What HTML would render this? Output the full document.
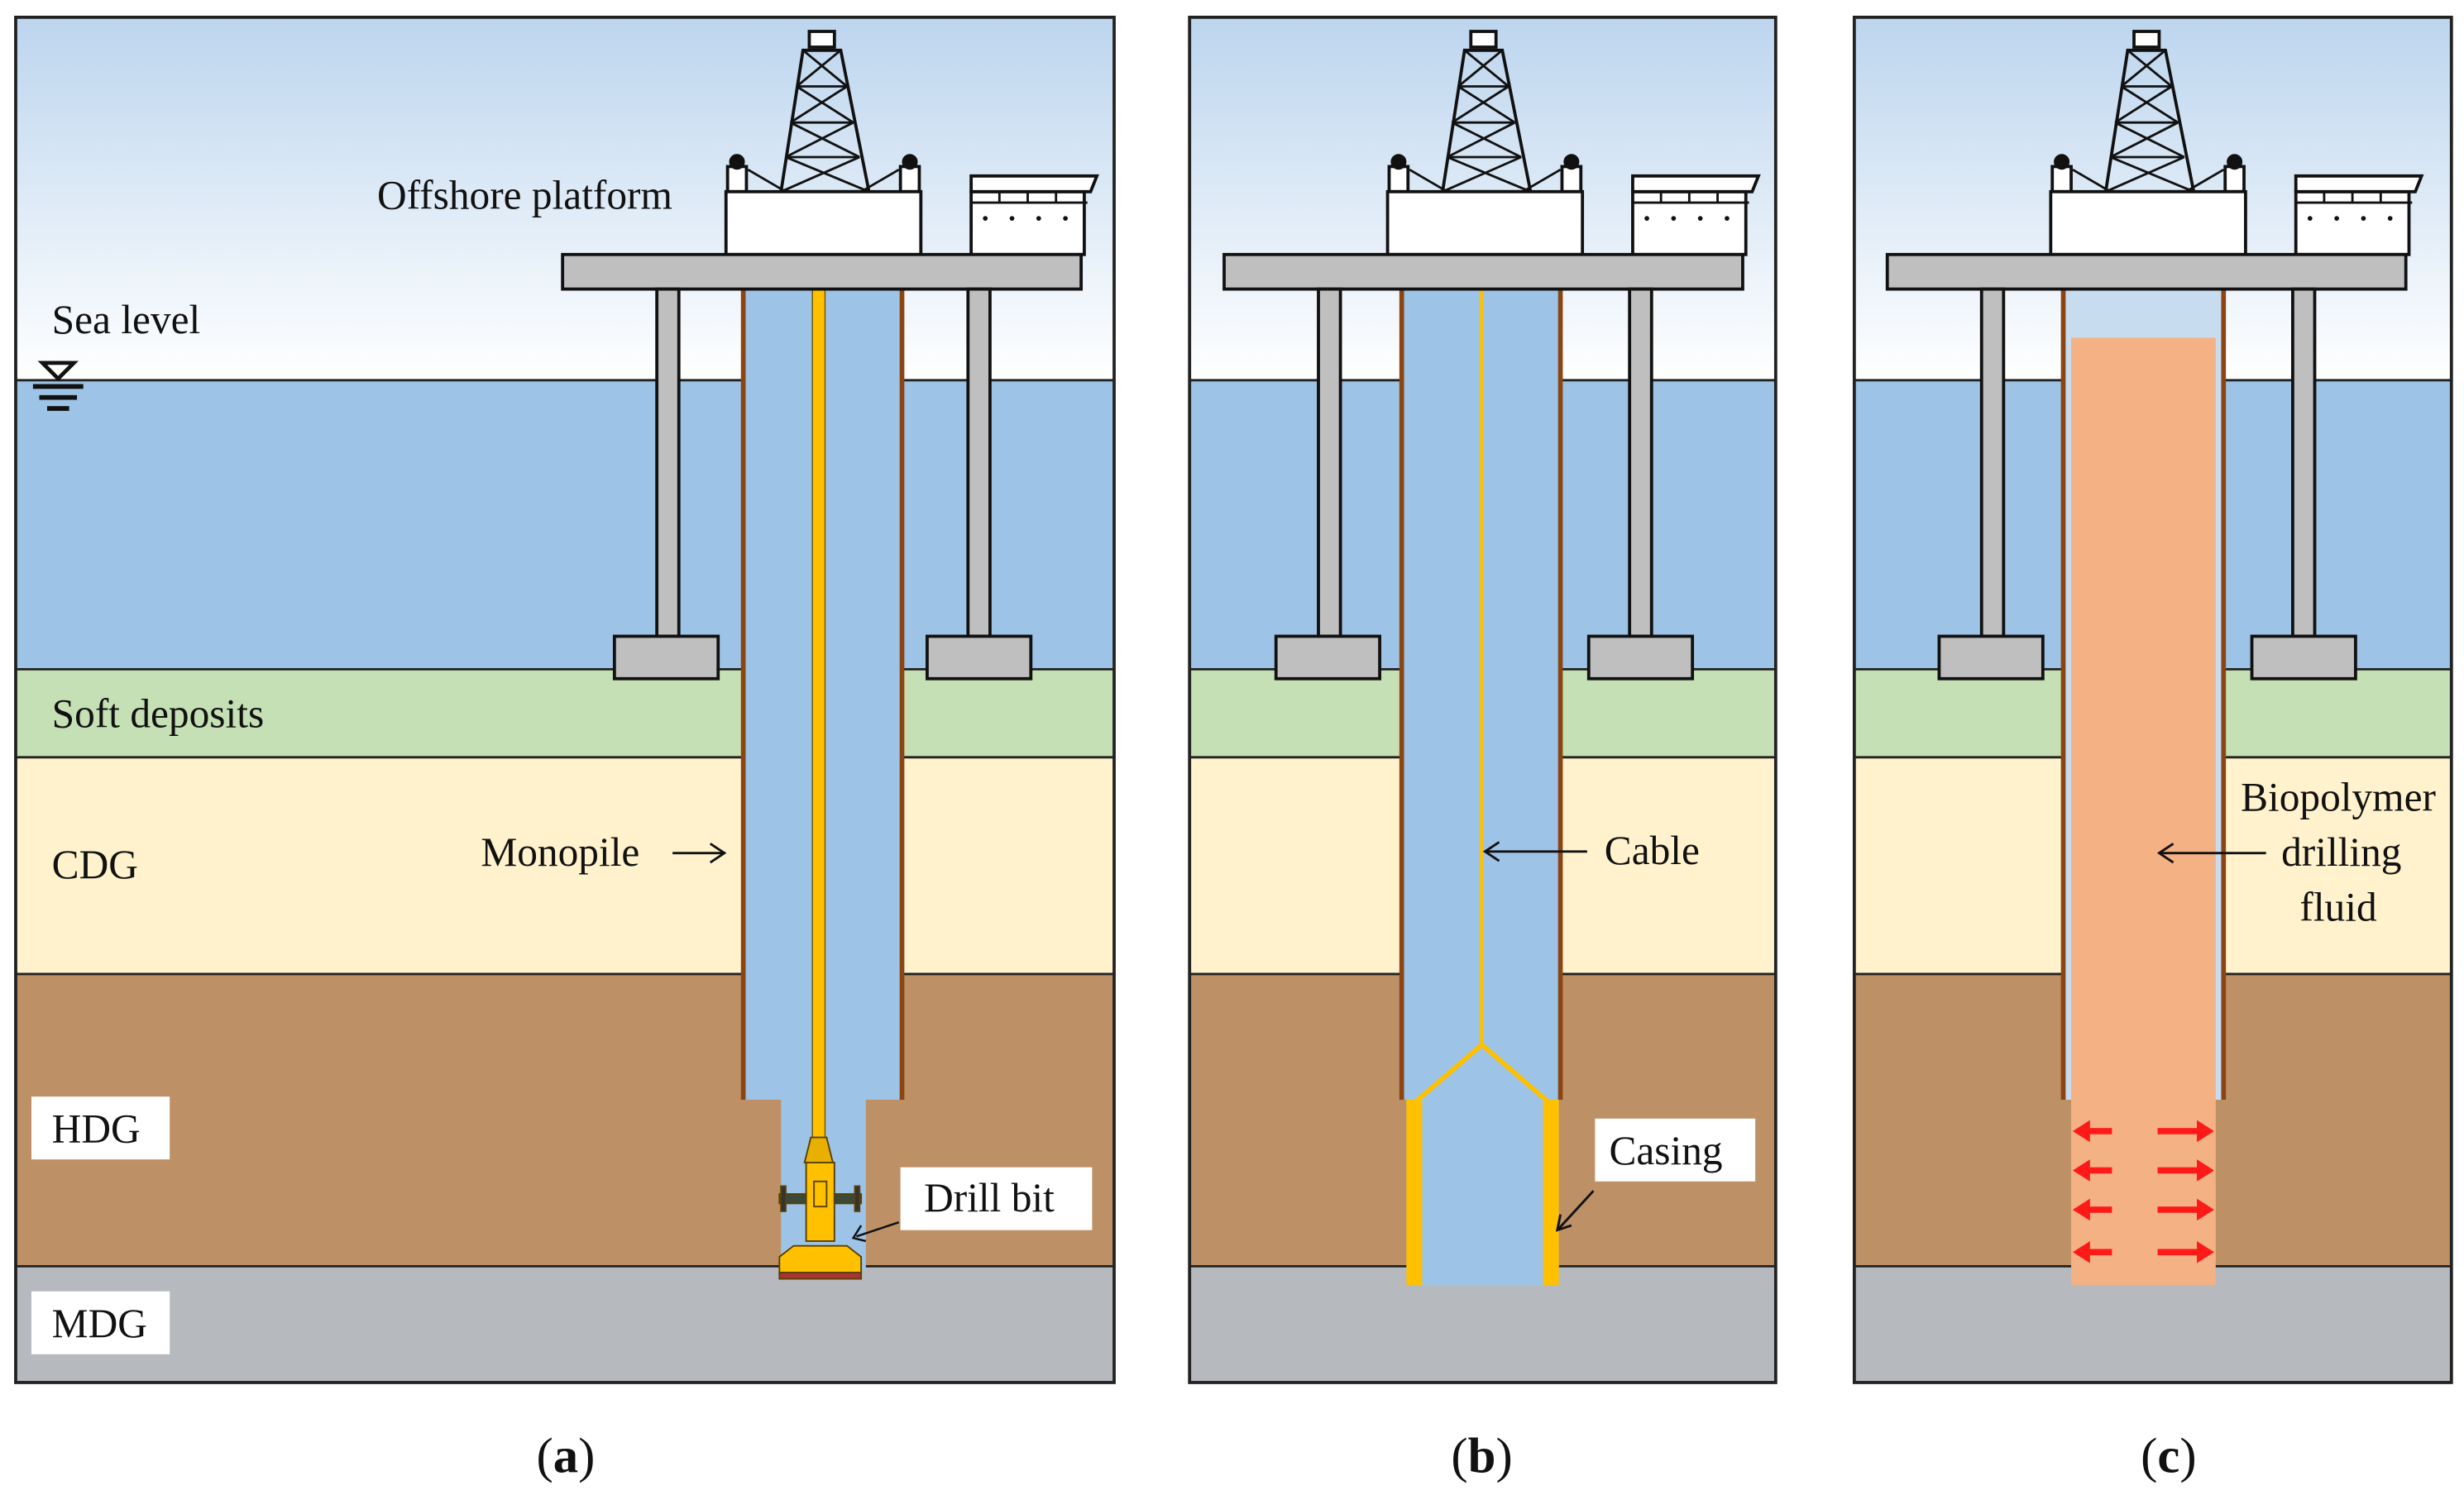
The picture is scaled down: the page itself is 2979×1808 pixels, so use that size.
<!DOCTYPE html>
<html><head><meta charset="utf-8"><style>html,body{margin:0;padding:0;background:#fff}svg{display:block}</style></head>
<body>
<svg width="2979" height="1808" viewBox="0 0 1568 951.6" preserveAspectRatio="none" xmlns="http://www.w3.org/2000/svg" font-family="Liberation Serif, serif">
<defs>
<linearGradient id="sky" x1="0" y1="0" x2="0" y2="1"><stop offset="0" stop-color="#bcd5ee"/><stop offset="1" stop-color="#ffffff"/></linearGradient>
<g id="plat" stroke="#111" stroke-width="2">
  <polygon points="497,122 553,122 535,32 511,32" fill="none"/>
  <rect x="515" y="20" width="16" height="10" fill="#fff"/>
  <g stroke-width="1.5" fill="none">
    <line x1="511" y1="32" x2="535" y2="32"/><line x1="507" y1="55" x2="539" y2="55"/>
    <line x1="503" y1="78" x2="543" y2="78"/><line x1="500" y1="100" x2="547" y2="100"/>
    <line x1="511" y1="32" x2="539" y2="55"/><line x1="535" y1="32" x2="507" y2="55"/>
    <line x1="507" y1="55" x2="543" y2="78"/><line x1="539" y1="55" x2="503" y2="78"/>
    <line x1="503" y1="78" x2="547" y2="100"/><line x1="543" y1="78" x2="500" y2="100"/>
    <line x1="500" y1="100" x2="553" y2="122"/><line x1="547" y1="100" x2="497" y2="122"/>
    <line x1="476" y1="108" x2="500" y2="122"/><line x1="572" y1="108" x2="548" y2="122"/>
  </g>
  <rect x="463" y="106" width="12" height="16" fill="#fff"/>
  <rect x="573" y="106" width="12" height="16" fill="#fff"/>
  <circle cx="469" cy="103" r="4" fill="#111"/><circle cx="579" cy="103" r="4" fill="#111"/>
  <rect x="462" y="122" width="124" height="40" fill="#fff"/>
  <rect x="618" y="122" width="72" height="40" fill="#fff"/>
  <polygon points="618,112 698,112 694,122 618,122" fill="#fff"/>
  <g stroke-width="1.5" fill="none"><line x1="618" y1="129" x2="692" y2="129"/><line x1="636" y1="122" x2="636" y2="129"/><line x1="654" y1="122" x2="654" y2="129"/><line x1="672" y1="122" x2="672" y2="129"/></g>
  <g fill="#111" stroke="none"><circle cx="627" cy="139" r="1.5"/><circle cx="644" cy="139" r="1.5"/><circle cx="661" cy="139" r="1.5"/><circle cx="678" cy="139" r="1.5"/></g>
  <rect x="358" y="162" width="330" height="22" fill="#bfbfbf"/>
  <rect x="418" y="184" width="14" height="221" fill="#bfbfbf"/>
  <rect x="616" y="184" width="14" height="221" fill="#bfbfbf"/>
  <rect x="391" y="405" width="66" height="27" fill="#bfbfbf"/>
  <rect x="590" y="405" width="66" height="27" fill="#bfbfbf"/>
</g>
</defs>

<g>
<rect x="10" y="11" width="699" height="231" fill="url(#sky)"/>
<rect x="10" y="242" width="699" height="184" fill="#9dc3e6"/>
<rect x="10" y="426" width="699" height="56" fill="#c5e0b4"/>
<rect x="10" y="482" width="699" height="138" fill="#fff2cc"/>
<rect x="10" y="620" width="699" height="186" fill="#bd9066"/>
<rect x="10" y="806" width="699" height="74" fill="#b6babf"/>
</g>
<g>
<rect x="757" y="11" width="373" height="231" fill="url(#sky)"/>
<rect x="757" y="242" width="373" height="184" fill="#9dc3e6"/>
<rect x="757" y="426" width="373" height="56" fill="#c5e0b4"/>
<rect x="757" y="482" width="373" height="138" fill="#fff2cc"/>
<rect x="757" y="620" width="373" height="186" fill="#bd9066"/>
<rect x="757" y="806" width="373" height="74" fill="#b6babf"/>
</g>
<g>
<rect x="1180" y="11" width="380" height="231" fill="url(#sky)"/>
<rect x="1180" y="242" width="380" height="184" fill="#9dc3e6"/>
<rect x="1180" y="426" width="380" height="56" fill="#c5e0b4"/>
<rect x="1180" y="482" width="380" height="138" fill="#fff2cc"/>
<rect x="1180" y="620" width="380" height="186" fill="#bd9066"/>
<rect x="1180" y="806" width="380" height="74" fill="#b6babf"/>
</g>
<g stroke="#222" stroke-width="1.5">
<line x1="10" y1="242" x2="709" y2="242"/><line x1="10" y1="426" x2="709" y2="426"/><line x1="10" y1="482" x2="709" y2="482"/><line x1="10" y1="620" x2="709" y2="620"/><line x1="10" y1="806" x2="709" y2="806"/>
<line x1="757" y1="242" x2="1130" y2="242"/><line x1="757" y1="426" x2="1130" y2="426"/><line x1="757" y1="482" x2="1130" y2="482"/><line x1="757" y1="620" x2="1130" y2="620"/><line x1="757" y1="806" x2="1130" y2="806"/>
<line x1="1180" y1="242" x2="1560" y2="242"/><line x1="1180" y1="426" x2="1560" y2="426"/><line x1="1180" y1="482" x2="1560" y2="482"/><line x1="1180" y1="620" x2="1560" y2="620"/><line x1="1180" y1="806" x2="1560" y2="806"/>
</g>

<!-- Panel A -->
<rect x="472" y="184" width="103" height="516" fill="#9dc3e6"/>
<rect x="497" y="698" width="54" height="110" fill="#9dc3e6"/>
<line x1="473" y1="184" x2="473" y2="700" stroke="#8b4513" stroke-width="3"/>
<line x1="574" y1="184" x2="574" y2="700" stroke="#8b4513" stroke-width="3"/>
<rect x="517" y="184" width="8" height="540" fill="#ffc000" stroke="#7a5a00" stroke-width="0.8"/>
<g stroke="#5a4000" stroke-width="1">
<polygon points="516,724 526,724 530,740 512,740" fill="#e8b000"/>
<rect x="513" y="740" width="18" height="50" fill="#ffc000"/>
<rect x="518" y="752" width="8" height="16" fill="#ffc000"/>
<rect x="496" y="760" width="17" height="6" fill="#3a4a3a"/><rect x="531" y="760" width="17" height="6" fill="#3a4a3a"/>
<rect x="497" y="755" width="3" height="16" fill="#333"/><rect x="544" y="755" width="3" height="16" fill="#333"/>
<polygon points="505,793 539,793 548,800 548,810 496,810 496,800" fill="#ffc000"/>
<rect x="496" y="810" width="52" height="4" fill="#a33"/>
</g>
<line x1="572" y1="778" x2="545" y2="787" stroke="#111" stroke-width="1.3"/>
<polyline points="548,780 543,788 551,790" fill="none" stroke="#111" stroke-width="1.3"/>
<use href="#plat"/>
<g stroke="#111" stroke-width="3" fill="none">
<polygon points="27,231 47,231 37,241" stroke-width="2.5"/>
<line x1="21" y1="246" x2="53" y2="246"/><line x1="25" y1="253" x2="49" y2="253"/><line x1="30" y1="260" x2="44" y2="260"/>
</g>
<g font-size="26" fill="#111">
<text x="240" y="133">Offshore platform</text>
<text x="33" y="212">Sea level</text>
<text x="33" y="463">Soft deposits</text>
<text x="33" y="559">CDG</text>
<text x="306" y="551">Monopile</text>
</g>
<line x1="428" y1="543" x2="460" y2="543" stroke="#111" stroke-width="1.5"/>
<polyline points="452,537 461,543 452,549" fill="none" stroke="#111" stroke-width="1.5"/>
<rect x="20" y="698" width="88" height="40" fill="#fff"/>
<text x="33" y="727" font-size="26" fill="#111">HDG</text>
<rect x="20" y="822" width="88" height="40" fill="#fff"/>
<text x="33" y="851" font-size="26" fill="#111">MDG</text>
<rect x="573" y="743" width="122" height="40" fill="#fff"/>
<text x="588" y="771" font-size="26" fill="#111">Drill bit</text>

<!-- Panel B -->
<rect x="893" y="184" width="99" height="516" fill="#9dc3e6"/>
<rect x="895" y="700" width="97" height="118" fill="#9dc3e6"/>
<line x1="892" y1="184" x2="892" y2="700" stroke="#8b4513" stroke-width="3"/>
<line x1="993" y1="184" x2="993" y2="700" stroke="#8b4513" stroke-width="3"/>
<line x1="943" y1="184" x2="943" y2="665" stroke="#ffc000" stroke-width="2.5"/>
<polyline points="900,702 943,665 986,702" fill="none" stroke="#ffc000" stroke-width="3"/>
<rect x="895" y="700" width="10" height="118" fill="#ffc000"/>
<rect x="982" y="700" width="10" height="118" fill="#ffc000"/>
<g transform="translate(421,0)"><use href="#plat"/></g>
<line x1="946" y1="542" x2="1010" y2="542" stroke="#111" stroke-width="1.5"/>
<polyline points="954,536 945,542 954,548" fill="none" stroke="#111" stroke-width="1.5"/>
<text x="1021" y="550" font-size="26" fill="#111">Cable</text>
<rect x="1015" y="712" width="102" height="40" fill="#fff"/>
<text x="1024" y="741" font-size="26" fill="#111">Casing</text>
<line x1="1014" y1="758" x2="992" y2="782" stroke="#111" stroke-width="1.5"/>
<polyline points="993,773 991,783 1000,780" fill="none" stroke="#111" stroke-width="1.5"/>

<!-- Panel C -->
<rect x="1313" y="184" width="102" height="516" fill="#c7dcef"/>
<rect x="1318" y="215" width="92" height="603" fill="#f4b183"/>
<line x1="1313" y1="184" x2="1313" y2="700" stroke="#8b4513" stroke-width="3"/>
<line x1="1415" y1="184" x2="1415" y2="700" stroke="#8b4513" stroke-width="3"/>
<g transform="translate(843,0)"><use href="#plat"/></g>
<g fill="#ff1a1a">
<g id="ar"><rect x="1328" y="718" width="16" height="4"/><polygon points="1319,720 1330,713 1330,727"/><rect x="1373" y="718" width="26" height="4"/><polygon points="1409,720 1398,713 1398,727"/></g>
<use href="#ar" y="25"/><use href="#ar" y="50"/><use href="#ar" y="77"/>
</g>
<line x1="1375" y1="543" x2="1442" y2="543" stroke="#111" stroke-width="1.5"/>
<polyline points="1383,537 1374,543 1383,549" fill="none" stroke="#111" stroke-width="1.5"/>
<g font-size="26" fill="#111" text-anchor="middle">
<text x="1488" y="516">Biopolymer</text>
<text x="1490" y="551">drilling</text>
<text x="1488" y="586">fluid</text>
</g>

<g fill="none" stroke="#222" stroke-width="2">
<rect x="10" y="11" width="699" height="869"/>
<rect x="757" y="11" width="373" height="869"/>
<rect x="1180" y="11" width="380" height="869"/>
</g>
<g font-size="32" fill="#111" text-anchor="middle">
<text x="360" y="937">(<tspan font-weight="bold">a</tspan>)</text>
<text x="943" y="937">(<tspan font-weight="bold">b</tspan>)</text>
<text x="1380" y="937">(<tspan font-weight="bold">c</tspan>)</text>
</g>
</svg>
</body></html>
